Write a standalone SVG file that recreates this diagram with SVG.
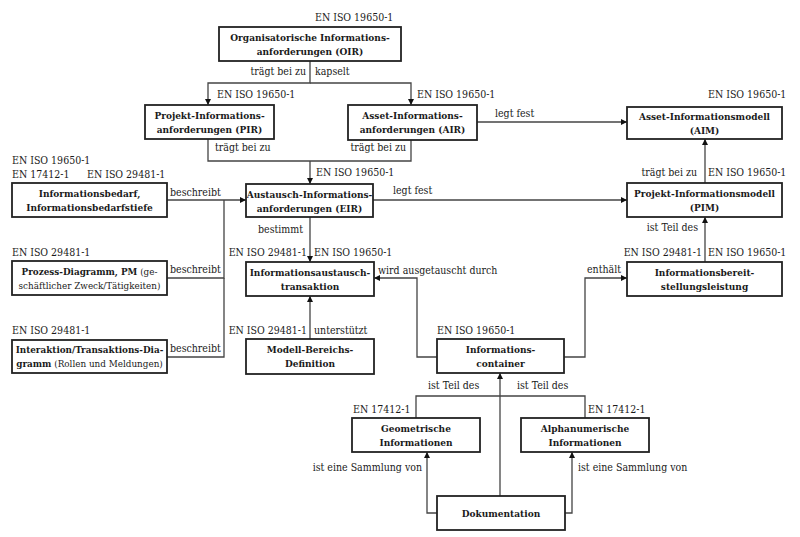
<svg xmlns="http://www.w3.org/2000/svg" width="800" height="537" viewBox="0 0 800 537">
<defs>
<style>
text{font-family:"DejaVu Serif Condensed","DejaVu Serif","Liberation Serif",serif;font-stretch:condensed;fill:#1a1a1a}
.t{font-size:10.5px}
.b{font-size:10px;font-weight:bold;text-anchor:middle}
.s{font-size:9.8px}
.e{text-anchor:end}
rect{fill:#fff;stroke:#222;stroke-width:1.8}
.c path{fill:none;stroke:#444;stroke-width:1.3}
.c .a{marker-end:url(#ah)}
</style>
<marker id="ah" viewBox="0 0 10 10" refX="10" refY="5" markerWidth="8" markerHeight="6" markerUnits="userSpaceOnUse" orient="auto"><path d="M0 0L10 5L0 10z" fill="#111"/></marker>
</defs>
<rect x="0" y="0" width="800" height="537" style="fill:#fff;stroke:none"/>
<g class="c" id="connectors">
<path class="a" d="M310 61V83H208V105"/>
<path class="a" d="M310 83H411V105"/>
<path d="M208 139V161H310"/>
<path d="M411 140V161H310"/>
<path class="a" d="M310 161V184"/>
<path class="a" d="M477 122H627"/>
<path class="a" d="M373 200H627"/>
<path class="a" d="M705 183V139"/>
<path class="a" d="M705 262V217"/>
<path class="a" d="M167 200H246"/>
<path d="M167 278H224V200"/>
<path d="M167 357H224V278"/>
<path class="a" d="M310 217V262"/>
<path class="a" d="M310 339V296"/>
<path class="a" d="M437 357H417V278H374"/>
<path class="a" d="M564 357H585V278H627"/>
<path d="M416 418V396H585V418"/>
<path class="a" d="M500 496V373"/>
<path class="a" d="M437 513H427V452"/>
<path class="a" d="M565 513H572V452"/>
<text class="t e" x="306" y="75">trägt bei zu</text>
<text class="t" x="315" y="75">kapselt</text>
<text class="t" x="215" y="151">trägt bei zu</text>
<text class="t e" x="406" y="151">trägt bei zu</text>
<text class="t" x="495" y="117">legt fest</text>
<text class="t" x="393" y="194">legt fest</text>
<text class="t e" x="697" y="176">trägt bei zu</text>
<text class="t e" x="698" y="231">ist Teil des</text>
<text class="t" x="170" y="196">beschreibt</text>
<text class="t" x="170" y="273">beschreibt</text>
<text class="t" x="170" y="352">beschreibt</text>
<text class="t" x="258" y="233">bestimmt</text>
<text class="t" x="314" y="334">unterstützt</text>
<text class="t" x="378" y="274">wird ausgetauscht durch</text>
<text class="t" x="587" y="273">enthält</text>
<text class="t" x="428" y="389">ist Teil des</text>
<text class="t" x="517" y="389">ist Teil des</text>
<text class="t e" x="422" y="471">ist eine Sammlung von</text>
<text class="t" x="578" y="471">ist eine Sammlung von</text>
</g>
<g id="oir">
<text class="t" x="315" y="21">EN ISO 19650-1</text>
<rect x="219" y="27" width="182" height="34"/>
<text class="b" x="310" y="41">Organisatorische Informations-</text>
<text class="b" x="310" y="55">anforderungen (OIR)</text>
</g>
<g id="pir">
<text class="t" x="217" y="98">EN ISO 19650-1</text>
<rect x="145" y="105" width="129" height="34"/>
<text class="b" x="209.5" y="119">Projekt-Informations-</text>
<text class="b" x="209.5" y="133">anforderungen (PIR)</text>
</g>
<g id="air">
<text class="t" x="417" y="98">EN ISO 19650-1</text>
<rect x="348" y="105" width="129" height="35"/>
<text class="b" x="412.5" y="119">Asset-Informations-</text>
<text class="b" x="412.5" y="133">anforderungen (AIR)</text>
</g>
<g id="aim">
<text class="t" x="708" y="98">EN ISO 19650-1</text>
<rect x="627" y="107" width="155" height="32"/>
<text class="b" x="704.5" y="120">Asset-Informationsmodell</text>
<text class="b" x="704.5" y="134">(AIM)</text>
</g>
<g id="pim">
<text class="t" x="708" y="176">EN ISO 19650-1</text>
<rect x="627" y="183" width="155" height="34"/>
<text class="b" x="704.5" y="197">Projekt-Informationsmodell</text>
<text class="b" x="704.5" y="211">(PIM)</text>
</g>
<g id="eir">
<text class="t" x="316" y="176">EN ISO 19650-1</text>
<rect x="246" y="184" width="127" height="33"/>
<text class="b" x="309.5" y="198">Austausch-Informations-</text>
<text class="b" x="309.5" y="212">anforderungen (EIR)</text>
</g>
<g id="bedarf">
<text class="t" x="12" y="164">EN ISO 19650-1</text>
<text class="t" x="12" y="178">EN 17412-1</text>
<text class="t" x="87" y="178">EN ISO 29481-1</text>
<rect x="12" y="183" width="155" height="34"/>
<text class="b" x="89.5" y="197">Informationsbedarf,</text>
<text class="b" x="89.5" y="211">Informationsbedarfstiefe</text>
</g>
<g id="prozess">
<text class="t" x="12" y="256">EN ISO 29481-1</text>
<rect x="12" y="261" width="155" height="34"/>
<text class="s" x="89.5" y="275" text-anchor="middle"><tspan font-weight="bold">Prozess-Diagramm, PM</tspan> (ge-</text>
<text class="s" x="89.5" y="289" text-anchor="middle">schäftlicher Zweck/Tätigkeiten)</text>
</g>
<g id="interaktion">
<text class="t" x="12" y="334">EN ISO 29481-1</text>
<rect x="12" y="340" width="155" height="33"/>
<text class="s" x="89.5" y="353" text-anchor="middle" font-weight="bold">Interaktion/Transaktions-Dia-</text>
<text class="s" x="89.5" y="367" text-anchor="middle"><tspan font-weight="bold">gramm</tspan> (Rollen und Meldungen)</text>
</g>
<g id="transaktion">
<text class="t e" x="307" y="256">EN ISO 29481-1</text>
<text class="t" x="314" y="256">EN ISO 19650-1</text>
<rect x="246" y="262" width="128" height="34"/>
<text class="b" x="310" y="276">Informationsaustausch-</text>
<text class="b" x="310" y="290">transaktion</text>
</g>
<g id="modell">
<text class="t e" x="307" y="334">EN ISO 29481-1</text>
<rect x="246" y="339" width="128" height="35"/>
<text class="b" x="310" y="353">Modell-Bereichs-</text>
<text class="b" x="310" y="367">Definition</text>
</g>
<g id="bereitstellung">
<text class="t e" x="702" y="256">EN ISO 29481-1</text>
<text class="t" x="708" y="256">EN ISO 19650-1</text>
<rect x="627" y="262" width="155" height="34"/>
<text class="b" x="704.5" y="276">Informationsbereit-</text>
<text class="b" x="704.5" y="290">stellungsleistung</text>
</g>
<g id="container">
<text class="t" x="437" y="334">EN ISO 19650-1</text>
<rect x="437" y="339" width="127" height="34"/>
<text class="b" x="500.5" y="353">Informations-</text>
<text class="b" x="500.5" y="367">container</text>
</g>
<g id="geometrisch">
<text class="t" x="353" y="413">EN 17412-1</text>
<rect x="352" y="418" width="128" height="34"/>
<text class="b" x="416" y="432">Geometrische</text>
<text class="b" x="416" y="446">Informationen</text>
</g>
<g id="alphanumerisch">
<text class="t" x="588" y="413">EN 17412-1</text>
<rect x="521" y="418" width="128" height="34"/>
<text class="b" x="585" y="432">Alphanumerische</text>
<text class="b" x="585" y="446">Informationen</text>
</g>
<g id="dokumentation">
<rect x="437" y="496" width="128" height="34"/>
<text class="b" x="501" y="517">Dokumentation</text>
</g>
</svg>
